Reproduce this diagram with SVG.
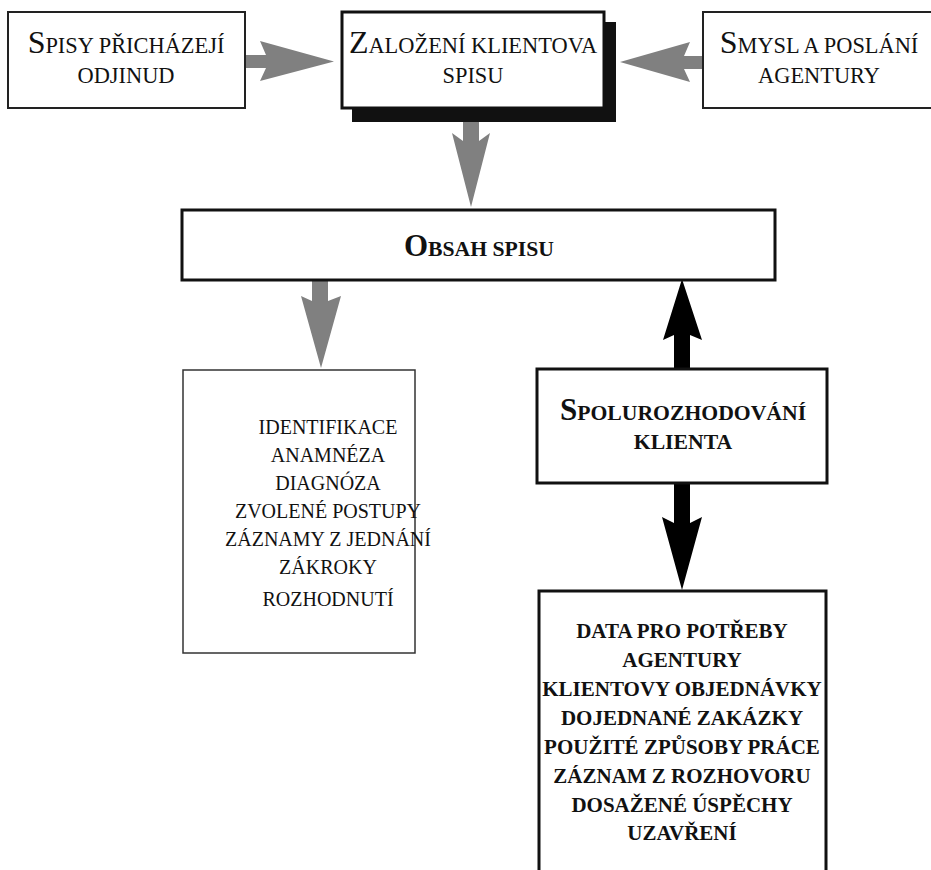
<svg xmlns="http://www.w3.org/2000/svg" width="931" height="870" viewBox="0 0 931 870">
<style>
.box{fill:#fff;stroke:#111;stroke-width:3}
.thin{fill:#fff;stroke:#222;stroke-width:2}
.t{font-family:"Liberation Serif","Times New Roman",serif;fill:#111;text-anchor:middle}
.sc{font-size:22.4px}
.scb{font-size:21.7px;font-weight:bold}
.cap{font-size:32px}
.capb{font-size:31px}
.list{font-size:20px}
.listb{font-size:21px;font-weight:bold}
.gray{fill:#808080}
.blk{fill:#000}
</style>
<rect width="931" height="870" fill="#fff"/>
<g id="connectors">
<polygon class="gray" points="246,55 266,55 260,41 334,61.5 260,81 266,68 246,68"/>
<polygon class="gray" points="703,56 684,56 690,42 620,62 690,82 684,69 703,69"/>
<polygon class="gray" points="463,108 479,108 479,141 490,133 471,207 452,133 463,141"/>
<polygon class="gray" points="312,281 328,281 328,301 341,296 321,368 301,296 312,301"/>
<polygon class="blk" points="674,368 690,368 690,335 702,340 682,279 663,340 674,335"/>
<polygon class="blk" points="674,484 690,484 690,523 702,517 682,590 662,517 674,523"/>
</g>
<g id="n1">
<rect class="thin" x="8" y="12" width="237" height="96"/>
<text class="t sc" x="126" y="53"><tspan class="cap">S</tspan>PISY PŘICHÁZEJÍ</text>
<text class="t sc" x="126" y="83">ODJINUD</text>
</g>
<g id="n2">
<rect x="352" y="22" width="264" height="100" fill="#111"/>
<rect class="box" x="342" y="12" width="262" height="96"/>
<text class="t sc" x="473" y="53"><tspan class="cap">Z</tspan>ALOŽENÍ KLIENTOVA</text>
<text class="t sc" x="473" y="83">SPISU</text>
</g>
<g id="n3">
<rect class="thin" x="703" y="12" width="235" height="96"/>
<text class="t sc" x="819" y="53"><tspan class="cap">S</tspan>MYSL A POSLÁNÍ</text>
<text class="t sc" x="819" y="83">AGENTURY</text>
</g>
<g id="n4">
<rect class="box" x="182" y="210" width="593" height="70"/>
<text class="t scb" x="479" y="256"><tspan class="capb">O</tspan>BSAH SPISU</text>
</g>
<g id="n5">
<rect x="183" y="370" width="232" height="283" fill="#fff" stroke="#333" stroke-width="1.5"/>
<text class="t list" x="328" y="434">IDENTIFIKACE</text>
<text class="t list" x="328" y="462">ANAMNÉZA</text>
<text class="t list" x="328" y="490">DIAGNÓZA</text>
<text class="t list" x="328" y="518">ZVOLENÉ POSTUPY</text>
<text class="t list" x="328" y="546">ZÁZNAMY Z JEDNÁNÍ</text>
<text class="t list" x="328" y="574">ZÁKROKY</text>
<text class="t list" x="328" y="606">ROZHODNUTÍ</text>
</g>
<g id="n6">
<rect class="box" x="537" y="369" width="290" height="114"/>
<text class="t scb" x="683" y="420"><tspan class="capb">S</tspan>POLUROZHODOVÁNÍ</text>
<text class="t scb" x="683" y="449">KLIENTA</text>
</g>
<g id="n7">
<rect class="box" x="539" y="591" width="287" height="290"/>
<text class="t listb" x="682" y="638">DATA PRO POTŘEBY</text>
<text class="t listb" x="682" y="667">AGENTURY</text>
<text class="t listb" x="682" y="696">KLIENTOVY OBJEDNÁVKY</text>
<text class="t listb" x="682" y="725">DOJEDNANÉ ZAKÁZKY</text>
<text class="t listb" x="682" y="754">POUŽITÉ ZPŮSOBY PRÁCE</text>
<text class="t listb" x="682" y="783">ZÁZNAM Z ROZHOVORU</text>
<text class="t listb" x="682" y="812">DOSAŽENÉ ÚSPĚCHY</text>
<text class="t listb" x="682" y="840">UZAVŘENÍ</text>
</g>
</svg>
